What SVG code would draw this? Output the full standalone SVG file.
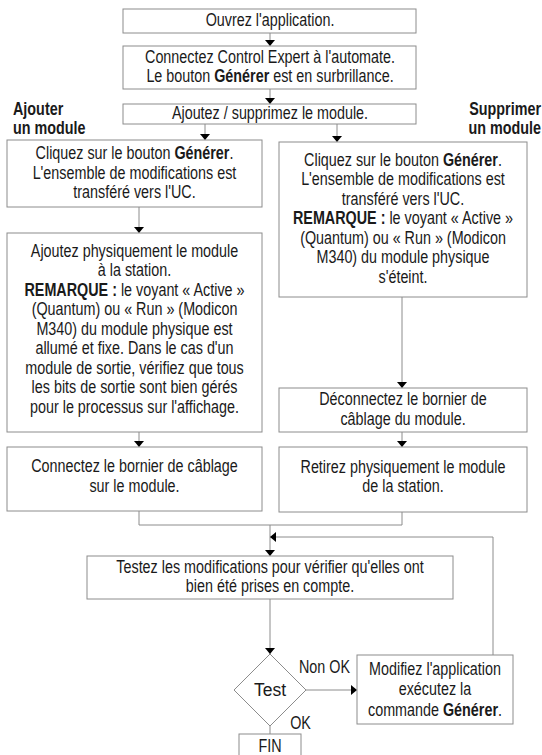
<svg xmlns="http://www.w3.org/2000/svg" width="542" height="755" viewBox="0 0 542 755">
  <style>
    .box { fill: #ffffff; stroke: #8c8c8c; stroke-width: 1; }
    .wire { fill: none; stroke: #8c8c8c; stroke-width: 1; }
    .lbl { font-family: "Liberation Sans", Arial, sans-serif; font-size: 17.5px; fill: #1a1a1a; text-anchor: middle; }
    .side { font-family: "Liberation Sans", Arial, sans-serif; font-size: 17.5px; font-weight: bold; fill: #1a1a1a; }
    .b { font-weight: bold; }
  </style>
  <defs>
    <marker id="head" viewBox="0 0 6 10" refX="6" refY="5" markerWidth="6" markerHeight="10" markerUnits="userSpaceOnUse" orient="auto">
      <path d="M0,0 L6,5 L0,10 z" fill="#000000"/>
    </marker>
  </defs>

  <!-- side captions (condensed by horizontal scaling) -->
  <g id="caption-add" transform="translate(13 0) scale(0.82 1)">
    <text class="side" x="0" y="115">Ajouter</text>
    <text class="side" x="0" y="134">un module</text>
  </g>
  <g id="caption-remove" transform="translate(541 0) scale(0.82 1)">
    <text class="side" x="0" y="115" text-anchor="end">Supprimer</text>
    <text class="side" x="0" y="134" text-anchor="end">un module</text>
  </g>

  <!-- connectors -->
  <g id="connectors">
    <line class="wire" x1="270" y1="33" x2="270" y2="46" marker-end="url(#head)"/>
    <line class="wire" x1="270" y1="89" x2="270" y2="104" marker-end="url(#head)"/>
    <line class="wire" x1="205" y1="124" x2="205" y2="140" marker-end="url(#head)"/>
    <line class="wire" x1="337" y1="124" x2="337" y2="142" marker-end="url(#head)"/>
    <line class="wire" x1="139" y1="207" x2="139" y2="233" marker-end="url(#head)"/>
    <line class="wire" x1="139" y1="432" x2="139" y2="447" marker-end="url(#head)"/>
    <line class="wire" x1="402" y1="297" x2="402" y2="388" marker-end="url(#head)"/>
    <line class="wire" x1="402" y1="432" x2="402" y2="447" marker-end="url(#head)"/>
    <polyline class="wire" points="139,511 139,525 402,525 402,512"/>
    <line class="wire" x1="270" y1="525" x2="270" y2="556" marker-end="url(#head)"/>
    <polyline class="wire" points="493,655 493,537 270,537" marker-end="url(#head)"/>
    <line class="wire" x1="270" y1="599" x2="270" y2="654" marker-end="url(#head)"/>
    <line class="wire" x1="306" y1="690" x2="357" y2="690" marker-end="url(#head)"/>
    <line class="wire" x1="270" y1="726" x2="270" y2="734"/>
  </g>

  <g id="open-app">
    <rect class="box" x="123" y="9" width="293" height="24"/>
    <g transform="translate(270 0) scale(0.82 1)">
      <text class="lbl" x="0" y="26">Ouvrez l'application.</text>
    </g>
  </g>

  <g id="connect-plc">
    <rect class="box" x="123" y="46" width="293" height="43"/>
    <g transform="translate(270 0) scale(0.82 1)">
      <text class="lbl" x="0" y="63">Connectez Control Expert à l'automate.</text>
      <text class="lbl" x="0" y="82">Le bouton <tspan class="b">Générer</tspan> est en surbrillance.</text>
    </g>
  </g>

  <g id="add-remove">
    <rect class="box" x="123" y="104" width="293" height="20"/>
    <g transform="translate(270 0) scale(0.82 1)">
      <text class="lbl" x="0" y="119">Ajoutez / supprimez le module.</text>
    </g>
  </g>

  <g id="add-build">
    <rect class="box" x="7" y="140" width="255" height="67"/>
    <g transform="translate(134.5 0) scale(0.82 1)">
      <text class="lbl" x="0" y="159.5">Cliquez sur le bouton <tspan class="b">Générer</tspan>.</text>
      <text class="lbl" x="0" y="179">L'ensemble de modifications est</text>
      <text class="lbl" x="0" y="198.5">transféré vers l'UC.</text>
    </g>
  </g>

  <g id="add-insert">
    <rect class="box" x="7" y="233" width="255" height="199"/>
    <g transform="translate(134.5 0) scale(0.82 1)">
      <text class="lbl" x="0" y="257">Ajoutez physiquement le module</text>
      <text class="lbl" x="0" y="276.5">à la station.</text>
      <text class="lbl" x="0" y="296"><tspan class="b">REMARQUE :</tspan> le voyant « Active »</text>
      <text class="lbl" x="0" y="315.5">(Quantum) ou « Run » (Modicon</text>
      <text class="lbl" x="0" y="335">M340) du module physique est</text>
      <text class="lbl" x="0" y="354.5">allumé et fixe. Dans le cas d'un</text>
      <text class="lbl" x="0" y="374">module de sortie, vérifiez que tous</text>
      <text class="lbl" x="0" y="393.5">les bits de sortie sont bien gérés</text>
      <text class="lbl" x="0" y="413">pour le processus sur l'affichage.</text>
    </g>
  </g>

  <g id="add-wire">
    <rect class="box" x="7" y="447" width="255" height="64"/>
    <g transform="translate(134.5 0) scale(0.82 1)">
      <text class="lbl" x="0" y="472.5">Connectez le bornier de câblage</text>
      <text class="lbl" x="0" y="492">sur le module.</text>
    </g>
  </g>

  <g id="remove-build">
    <rect class="box" x="279" y="142" width="248" height="155"/>
    <g transform="translate(403 0) scale(0.82 1)">
      <text class="lbl" x="0" y="166">Cliquez sur le bouton <tspan class="b">Générer</tspan>.</text>
      <text class="lbl" x="0" y="185.5">L'ensemble de modifications est</text>
      <text class="lbl" x="0" y="205">transféré vers l'UC.</text>
      <text class="lbl" x="0" y="224.5"><tspan class="b">REMARQUE :</tspan> le voyant « Active »</text>
      <text class="lbl" x="0" y="244">(Quantum) ou « Run » (Modicon</text>
      <text class="lbl" x="0" y="263.5">M340) du module physique</text>
      <text class="lbl" x="0" y="283">s'éteint.</text>
    </g>
  </g>

  <g id="remove-unwire">
    <rect class="box" x="279" y="388" width="248" height="44"/>
    <g transform="translate(403 0) scale(0.82 1)">
      <text class="lbl" x="0" y="405.5">Déconnectez le bornier de</text>
      <text class="lbl" x="0" y="425">câblage du module.</text>
    </g>
  </g>

  <g id="remove-extract">
    <rect class="box" x="279" y="447" width="248" height="65"/>
    <g transform="translate(403 0) scale(0.82 1)">
      <text class="lbl" x="0" y="473">Retirez physiquement le module</text>
      <text class="lbl" x="0" y="492.5">de la station.</text>
    </g>
  </g>

  <g id="test-changes">
    <rect class="box" x="87" y="556" width="366" height="43"/>
    <g transform="translate(270 0) scale(0.82 1)">
      <text class="lbl" x="0" y="573">Testez les modifications pour vérifier qu'elles ont</text>
      <text class="lbl" x="0" y="592.5">bien été prises en compte.</text>
    </g>
  </g>

  <g id="test-decision">
    <polygon class="box" points="270,654 306,690 270,726 234,690"/>
    <text class="lbl" x="270" y="696">Test</text>
    <g transform="translate(324.5 0) scale(0.82 1)">
      <text class="lbl" x="0" y="673">Non OK</text>
    </g>
    <g transform="translate(300.5 0) scale(0.82 1)">
      <text class="lbl" x="0" y="729">OK</text>
    </g>
  </g>

  <g id="fix-app">
    <rect class="box" x="357" y="655" width="156" height="69"/>
    <g transform="translate(435 0) scale(0.82 1)">
      <text class="lbl" x="0" y="675">Modifiez l'application</text>
      <text class="lbl" x="0" y="695.5">exécutez la</text>
      <text class="lbl" x="0" y="716">commande <tspan class="b">Générer</tspan>.</text>
    </g>
  </g>

  <g id="end">
    <rect class="box" x="239" y="734" width="62" height="30"/>
    <g transform="translate(270 0) scale(0.82 1)">
      <text class="lbl" x="0" y="752">FIN</text>
    </g>
  </g>
</svg>
